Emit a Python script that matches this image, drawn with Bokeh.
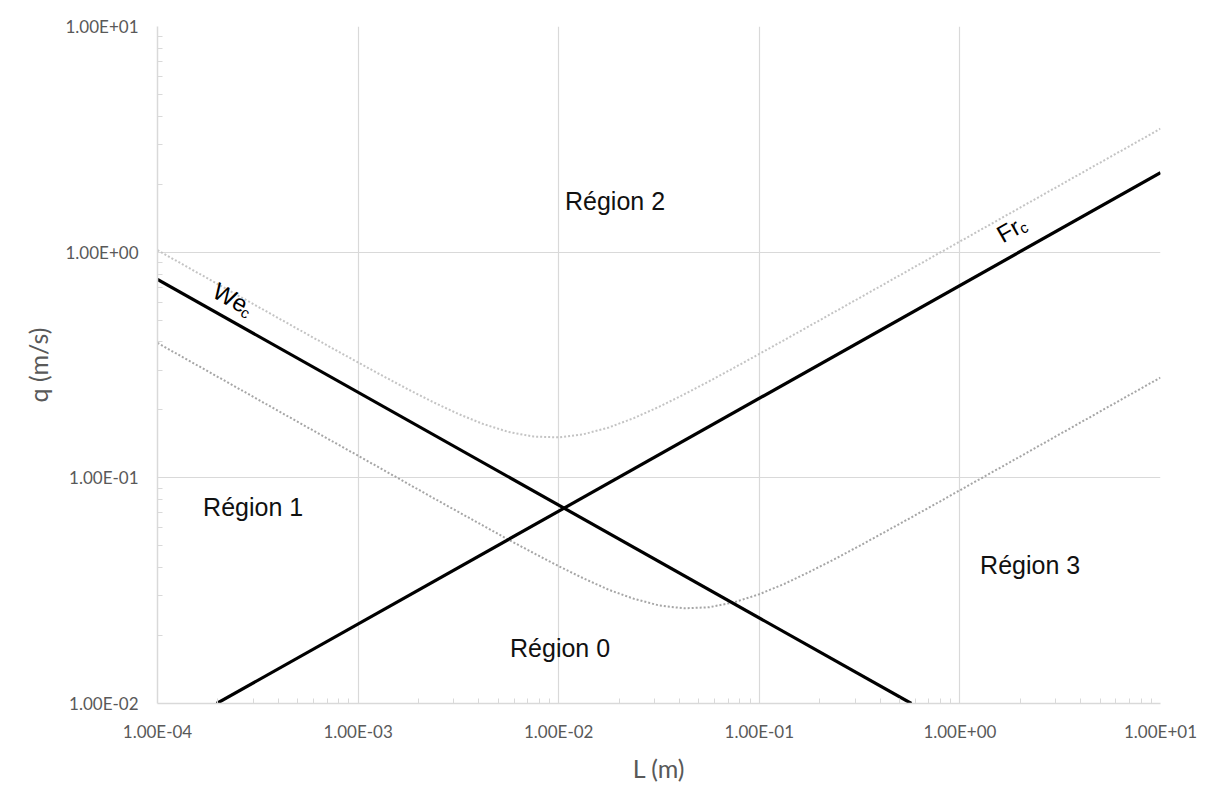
from bokeh.plotting import figure
from bokeh.models import FixedTicker, CustomJSTickFormatter, Range1d
from bokeh.core.properties import value
from bokeh.embed import file_html
from bokeh.resources import INLINE

# ---- data ----
L_grid = [1.0e-4, 1.334e-4, 1.778e-4, 2.371e-4, 3.162e-4, 4.217e-4, 5.623e-4, 7.499e-4,
          1.0e-3, 1.334e-3, 1.778e-3, 2.371e-3, 3.162e-3, 4.217e-3, 5.623e-3, 7.499e-3,
          1.0e-2, 1.334e-2, 1.778e-2, 2.371e-2, 3.162e-2, 4.217e-2, 5.623e-2, 7.499e-2,
          0.1, 0.1334, 0.1778, 0.2371, 0.3162, 0.4217, 0.5623, 0.7499,
          1.0, 1.334, 1.778, 2.371, 3.162, 4.217, 5.623, 7.499, 10.0]
q_upper = [1.020, 0.8834, 0.765, 0.6626, 0.574, 0.4972, 0.431, 0.3737,
           0.3245, 0.2823, 0.2464, 0.2164, 0.1919, 0.1730, 0.1597, 0.1523,
           0.1511, 0.1561, 0.1672, 0.1840, 0.2064, 0.2343, 0.2679, 0.3076,
           0.3541, 0.4081, 0.4708, 0.5434, 0.6273, 0.7243, 0.8362, 0.9656,
           1.115, 1.2876, 1.487, 1.717, 1.983, 2.290, 2.644, 3.053, 3.526]
q_lower = [0.396, 0.3429, 0.297, 0.2572, 0.2227, 0.1928, 0.1670, 0.1446,
           0.1253, 0.1085, 0.0940, 0.0814, 0.0706, 0.0613, 0.0532, 0.0464,
           0.0406, 0.0358, 0.0319, 0.0291, 0.0272, 0.0264, 0.0267, 0.0281,
           0.0305, 0.0339, 0.0383, 0.0436, 0.0500, 0.0575, 0.0662, 0.0763,
           0.0881, 0.1017, 0.1173, 0.1355, 0.1565, 0.1807, 0.2087, 0.2410, 0.2783]

we_L = [1.0e-4, 0.573]
we_q = [0.757, 0.01]
fr_L = [1.973e-4, 10.0]
fr_q = [0.01, 2.25]

x_ticks = [1e-4, 1e-3, 1e-2, 1e-1, 1e0, 1e1]
y_ticks = [1e-2, 1e-1, 1e0, 1e1]

region_text = ["Région  2", "Région  1", "Région  0", "Région  3"]
region_L = [0.01986, 3.12e-4, 0.01057, 2.33]
region_q = [1.677, 0.0740, 0.01754, 0.0413]

# ---- figure ----
p = figure(width=1206, height=790, x_axis_type="log", y_axis_type="log",
           x_range=Range1d(1e-4, 10), y_range=Range1d(1e-2, 10),
           output_backend="svg", toolbar_location=None,
           min_border_left=157, min_border_right=46,
           min_border_top=26, min_border_bottom=87)
p.outline_line_color = None
p.background_fill_color = "white"
p.border_fill_color = "white"
# thin outer chart border, drawn a few pixels inside the figure edge
p.styles = {"outline": "1px solid #d9d9d9", "outline-offset": "-7px"}

fmt = CustomJSTickFormatter(code=r"""
var s = tick.toExponential(2).toUpperCase();
return s.replace(/E([+-])(\d)$/, 'E$10$2');
""")

minor = [m * 10.0 ** e for e in range(-4, 1) for m in range(2, 10)]
p.xaxis.ticker = FixedTicker(ticks=x_ticks, minor_ticks=minor)
minor_y = [m * 10.0 ** e for e in range(-2, 1) for m in range(2, 10)]
p.yaxis.ticker = FixedTicker(ticks=y_ticks, minor_ticks=minor_y)

for ax in (p.xaxis[0], p.yaxis[0]):
    ax.formatter = fmt
    ax.axis_line_color = "#d9d9d9"
    ax.axis_line_width = 1.5
    ax.major_tick_line_color = None
    ax.major_tick_in = 0
    ax.major_tick_out = 0
    ax.minor_tick_line_color = "#d9d9d9"
    ax.minor_tick_in = 5
    ax.minor_tick_out = 0
    ax.major_label_text_font = "Lato"
    ax.major_label_text_font_size = "17px"
    ax.major_label_text_color = "#595959"
    ax.axis_label_text_font = "Lato"
    ax.axis_label_text_font_size = "25px"
    ax.axis_label_text_font_style = "normal"
    ax.axis_label_text_color = "#595959"

p.xaxis.axis_label = "L (m)"
p.yaxis.axis_label = "q (m/s)"
p.xaxis.major_label_standoff = 17
p.yaxis.major_label_standoff = 19
p.xaxis.axis_label_standoff = 8
p.yaxis.axis_label_standoff = 10

p.xgrid.grid_line_color = "#d9d9d9"
p.ygrid.grid_line_color = "#d9d9d9"
p.xgrid.grid_line_width = 1.2
p.ygrid.grid_line_width = 1.2

# dotted envelope curves
p.line(L_grid, q_upper, line_color="#c4c4c4", line_width=2, line_dash="2 2")
p.line(L_grid, q_lower, line_color="#a6a6a6", line_width=2, line_dash="2 2")

# critical lines
p.line(we_L, we_q, line_color="black", line_width=3.2)
p.line(fr_L, fr_q, line_color="black", line_width=3.2)

# region labels
p.text(region_L, region_q, text=region_text, text_font=value("Liberation Sans"),
       text_font_size="25px", text_color="#111111",
       text_align="center", text_baseline="middle")

# We_c / Fr_c labels (rotated along the lines)
ang = 0.513
p.text([2.31e-4], [0.630], text=["We"], angle=-ang, text_font=value("Liberation Sans"),
       text_font_size="24px", text_color="black", text_align="center", text_baseline="middle")
p.text([2.746e-4], [0.540], text=["c"], angle=-ang, text_font=value("Liberation Sans"),
       text_font_size="15px", text_color="black", text_align="center", text_baseline="middle")
p.text([1.747], [1.247], text=["Fr"], angle=ang, text_font=value("Liberation Sans"),
       text_font_size="24px", text_color="black", text_align="center", text_baseline="middle")
p.text([2.075], [1.286], text=["c"], angle=ang, text_font=value("Liberation Sans"),
       text_font_size="15px", text_color="black", text_align="center", text_baseline="middle")

open("out.html", "w").write(file_html(p, INLINE))
